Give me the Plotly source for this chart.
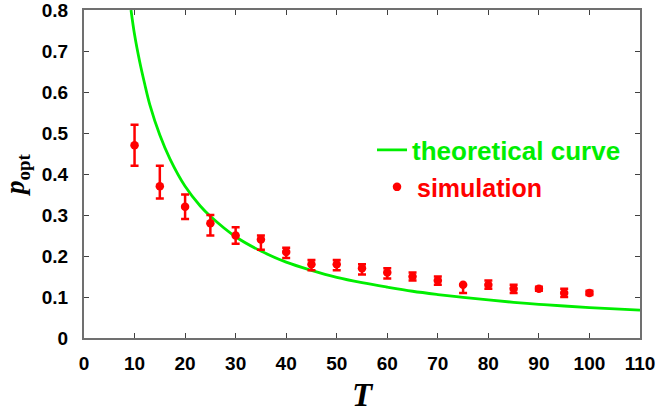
import plotly.graph_objects as go

# theoretical curve
theory_T = [9.3, 10, 11, 12, 13, 15, 17, 20, 23, 25, 30, 35, 40, 45, 50, 55, 60, 65, 70, 75, 80, 85, 90, 95, 100, 105, 110]
theory_p = [0.80, 0.74, 0.675, 0.62, 0.57, 0.495, 0.437, 0.37, 0.322, 0.297, 0.247, 0.212, 0.185, 0.165, 0.148, 0.135,
            0.124, 0.114, 0.106, 0.099, 0.093, 0.087, 0.082, 0.078, 0.074, 0.071, 0.068]

# simulation points with asymmetric error bars
sim_T = [10, 15, 20, 25, 30, 35, 40, 45, 50, 55, 60, 65, 70, 75, 80, 85, 90, 95, 100]
sim_p = [0.47, 0.37, 0.32, 0.28, 0.25, 0.24, 0.21, 0.18, 0.18, 0.17, 0.16, 0.15, 0.14, 0.13, 0.13, 0.12, 0.12, 0.11, 0.11]
err_plus = [0.05, 0.05, 0.03, 0.02, 0.02, 0.01, 0.01, 0.01, 0.01, 0.01, 0.01, 0.01, 0.01, 0.0, 0.01, 0.01, 0.005, 0.01, 0.005]
err_minus = [0.05, 0.03, 0.03, 0.03, 0.02, 0.025, 0.015, 0.015, 0.015, 0.015, 0.015, 0.01, 0.01, 0.02, 0.01, 0.01, 0.005, 0.01, 0.005]

x_ticks = list(range(0, 111, 10))
y_ticks = [0, 0.1, 0.2, 0.3, 0.4, 0.5, 0.6, 0.7, 0.8]

fig = go.Figure()
fig.add_trace(go.Scatter(
    x=theory_T, y=theory_p, mode="lines", name="theoretical curve",
    line=dict(color="#00ee00", width=2.8, shape="spline"), legend="legend",
))
fig.add_trace(go.Scatter(
    x=sim_T, y=sim_p, mode="markers", name="simulation",
    marker=dict(color="#ff0000", size=8.5),
    error_y=dict(type="data", symmetric=False, array=err_plus, arrayminus=err_minus,
                 color="#ff0000", thickness=2.5, width=4),
    legend="legend2",
))

axis_common = dict(
    showline=True, linecolor="#707070", linewidth=2, mirror="ticks",
    ticks="inside", ticklen=5, tickcolor="#404040", tickwidth=1.3,
    showgrid=False, zeroline=False, automargin=False, ticklabeloverflow="allow",
    tickfont=dict(family="Liberation Sans", size=19, color="black", weight="bold"),
)

fig.update_layout(
    width=657, height=413,
    margin=dict(l=84, r=17, t=10, b=75, autoexpand=False),
    paper_bgcolor="white", plot_bgcolor="white",
    xaxis=dict(range=[0, 110], tickvals=x_ticks, ticklabelstandoff=7,
               title=dict(text="<i>T</i>", font=dict(family="Liberation Serif", size=33, color="black", weight="bold"), standoff=16),
               **axis_common),
    yaxis=dict(range=[0, 0.8], tickvals=y_ticks, ticklabelstandoff=10,
               title=dict(text="<i>p</i><sub>opt</sub>", font=dict(family="Liberation Serif", size=27, color="black", weight="bold"), standoff=12),
               **axis_common),
    legend=dict(x=0.518, y=0.573, xanchor="left", yanchor="middle", bgcolor="rgba(0,0,0,0)",
                font=dict(family="Liberation Sans", size=26, color="#00ee00", weight="bold"),
                itemwidth=30),
    legend2=dict(x=0.527, y=0.46, xanchor="left", yanchor="middle", bgcolor="rgba(0,0,0,0)",
                 font=dict(family="Liberation Sans", size=25, color="#ff0000", weight="bold"),
                 itemwidth=30),
    showlegend=True,
)

fig.write_html("out.html", config={"displayModeBar": False},
               post_script="document.body.style.margin='0';document.body.style.overflow='hidden';")
